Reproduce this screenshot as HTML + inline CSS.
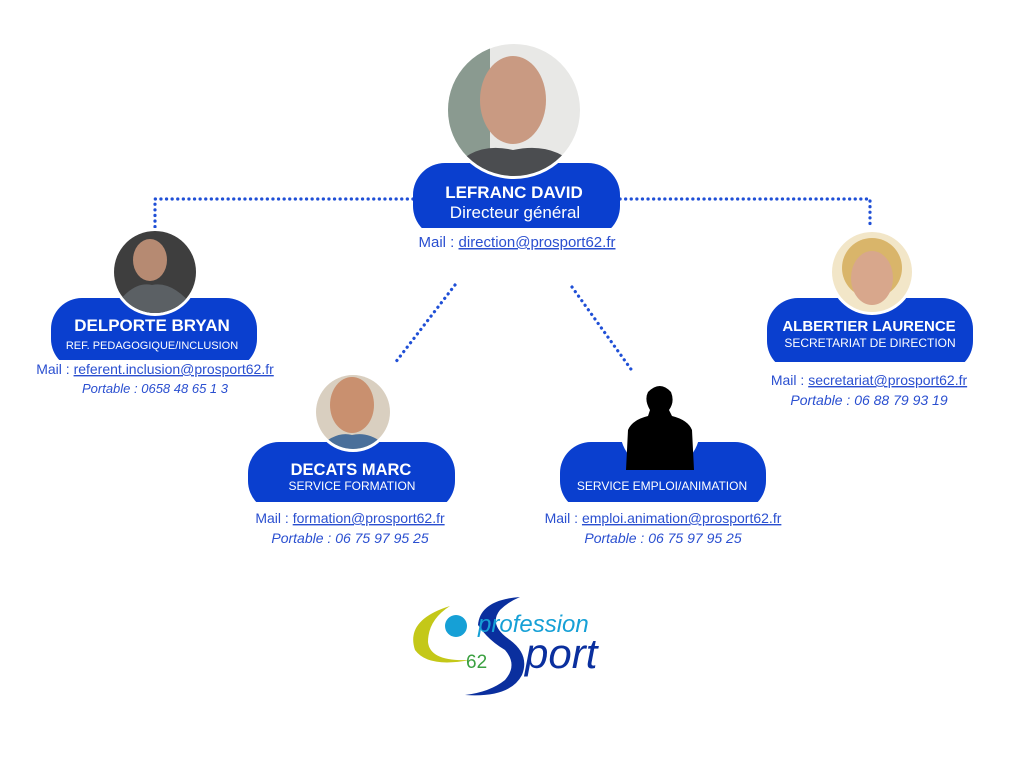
<!DOCTYPE html>
<html><head><meta charset="utf-8"><style>
html,body{margin:0;padding:0;background:#fff;}
svg text{font-family:"Liberation Sans",sans-serif;}
</style></head><body>
<svg width="1024" height="768" viewBox="0 0 1024 768" xmlns="http://www.w3.org/2000/svg">
<defs>
<clipPath id="c1"><circle cx="514" cy="110" r="66"/></clipPath>
<clipPath id="c2"><circle cx="155" cy="272" r="41"/></clipPath>
<clipPath id="c3"><circle cx="353" cy="412" r="37"/></clipPath>
<clipPath id="c5"><circle cx="872" cy="272" r="40"/></clipPath>
</defs>
<g stroke="#1f4fd6" stroke-width="3.2" stroke-dasharray="0.1 5.5" stroke-linecap="round" fill="none">
<path d="M413 199 H155 V230"/>
<path d="M620 199 H870 V228"/>
<path d="M455 285 L395 363"/>
<path d="M572 287 L633 372"/>
</g>
<g fill="#0a3fcf">
<rect x="413" y="163" width="207" height="75" rx="32"/>
<rect x="51" y="298" width="206" height="72" rx="31"/>
<rect x="248" y="442" width="207" height="70" rx="31"/>
<rect x="560" y="442" width="206" height="70" rx="31"/>
<rect x="767" y="298" width="206" height="74" rx="31"/>
</g>
<g fill="#fff">
<rect x="400" y="228" width="240" height="14"/>
<rect x="40" y="360" width="230" height="12"/>
<rect x="240" y="502" width="230" height="12"/>
<rect x="550" y="502" width="230" height="12"/>
<rect x="760" y="362" width="230" height="12"/>
</g>
<circle cx="514" cy="110" r="69" fill="#fff"/>
<g clip-path="url(#c1)">
<rect x="440" y="40" width="150" height="150" fill="#e8e8e6"/>
<rect x="440" y="40" width="50" height="150" fill="#8a9a90"/>
<ellipse cx="513" cy="100" rx="33" ry="44" fill="#c99a82"/>
<path d="M447 177 Q470 140 513 150 Q560 140 585 177 Z" fill="#4b4d50"/>
</g>
<circle cx="155" cy="272" r="44" fill="#fff"/>
<g clip-path="url(#c2)">
<rect x="110" y="228" width="90" height="90" fill="#3e3e3e"/>
<ellipse cx="150" cy="260" rx="17" ry="21" fill="#b68a72"/>
<path d="M110 315 Q130 280 152 285 Q175 280 200 315 Z" fill="#5b6064"/>
</g>
<circle cx="353" cy="412" r="40" fill="#fff"/>
<g clip-path="url(#c3)">
<rect x="313" y="372" width="80" height="80" fill="#d9cfc0"/>
<ellipse cx="352" cy="405" rx="22" ry="28" fill="#c9906f"/>
<path d="M313 452 Q335 430 352 435 Q372 430 393 452 Z" fill="#4a6f9a"/>
</g>
<circle cx="660" cy="430" r="40" fill="#fff"/>
<path d="M626 470 L628 430 Q632 420 648 416 L650 410 Q644 400 648 392 Q660 380 671 392 Q675 402 669 410 L672 416 Q688 420 692 430 L694 470 Z" fill="#000"/>
<circle cx="872" cy="272" r="43" fill="#fff"/>
<g clip-path="url(#c5)">
<rect x="830" y="230" width="90" height="90" fill="#f2e6c8"/>
<ellipse cx="872" cy="268" rx="30" ry="30" fill="#d9b56a"/>
<ellipse cx="872" cy="278" rx="21" ry="27" fill="#d8a78c"/>
</g>
<g fill="#fff" text-anchor="middle">
<text x="514" y="198" font-size="17" font-weight="bold">LEFRANC DAVID</text>
<text x="515" y="218" font-size="17">Directeur général</text>
<text x="152" y="331" font-size="17" font-weight="bold">DELPORTE BRYAN</text>
<text x="152" y="349" font-size="11">REF. PEDAGOGIQUE/INCLUSION</text>
<text x="351" y="475" font-size="16.5" font-weight="bold">DECATS MARC</text>
<text x="352" y="490" font-size="12">SERVICE FORMATION</text>
<text x="662" y="490" font-size="12">SERVICE EMPLOI/ANIMATION</text>
<text x="869" y="331" font-size="15" font-weight="bold">ALBERTIER LAURENCE</text>
<text x="870" y="347" font-size="12">SECRETARIAT DE DIRECTION</text>
</g>
<g fill="#2a4fd0" text-anchor="middle" font-size="14">
<text x="517" y="247" font-size="15">Mail : <tspan text-decoration="underline">direction@prosport62.fr</tspan></text>
<text x="155" y="374">Mail : <tspan text-decoration="underline">referent.inclusion@prosport62.fr</tspan></text>
<text x="155" y="393" font-style="italic" font-size="13">Portable : 0658 48 65 1 3</text>
<text x="350" y="523">Mail : <tspan text-decoration="underline">formation@prosport62.fr</tspan></text>
<text x="350" y="543" font-style="italic">Portable : 06 75 97 95 25</text>
<text x="663" y="523">Mail : <tspan text-decoration="underline"> emploi.animation@prosport62.fr</tspan></text>
<text x="663" y="543" font-style="italic">Portable : 06 75 97 95 25</text>
<text x="869" y="385">Mail : <tspan text-decoration="underline">secretariat@prosport62.fr</tspan></text>
<text x="869" y="405" font-style="italic">Portable : 06 88 79 93 19</text>
</g>
<path d="M450 606 Q405 620 415 650 Q428 668 470 660 Q430 662 428 642 Q428 620 450 606 Z" fill="#c4c818"/>
<circle cx="456" cy="626" r="11" fill="#16a0d6"/>
<path d="M520 597 Q480 600 478 625 Q488 640 505 650 Q518 665 505 680 Q490 692 465 695 Q510 698 522 675 Q530 655 510 640 Q488 625 500 610 Q508 602 520 597 Z" fill="#0a2f9e"/>
<text x="478" y="632" font-size="24" font-style="italic" fill="#16a0d6">profession</text>
<text x="466" y="668" font-size="19" fill="#3aa040">62</text>
<text x="525" y="668" font-size="42" font-style="italic" fill="#0a2f9e">port</text>
</svg>
</body></html>
